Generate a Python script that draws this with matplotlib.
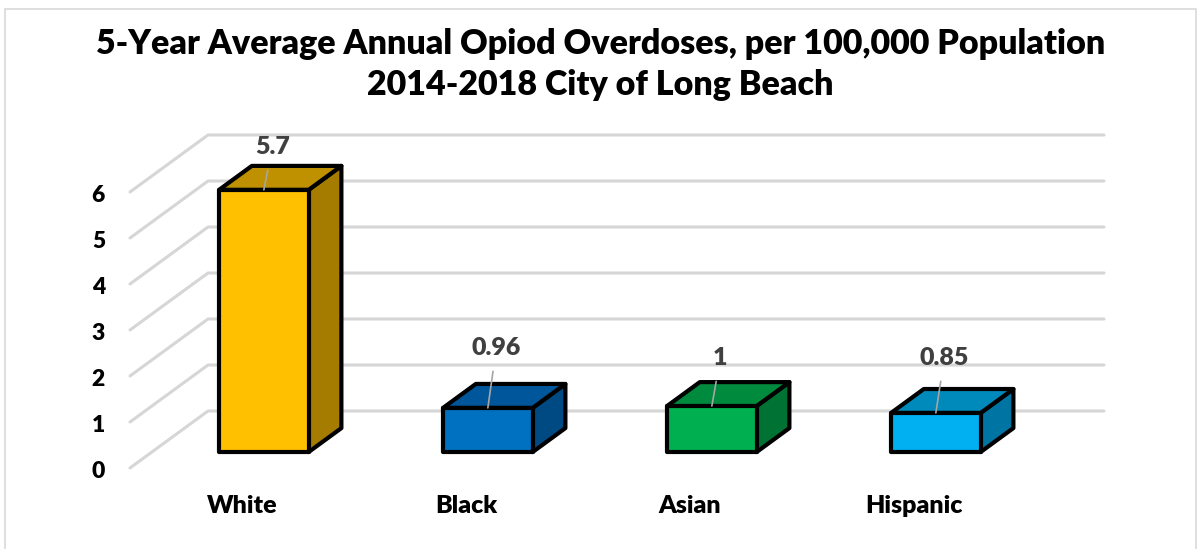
import numpy as np
import matplotlib.pyplot as plt
from matplotlib.patches import Polygon, Rectangle

plt.rcParams['font.family'] = ['Lato', 'DejaVu Sans']
FW = 'heavy'

# data
categories = ['White', 'Black', 'Asian', 'Hispanic']
values = [5.7, 0.96, 1, 0.85]
value_labels = ['5.7', '0.96', '1', '0.85']
y_ticks = [0, 1, 2, 3, 4, 5, 6]

# style
front_colors = ['#FFC000', '#0070C0', '#00B050', '#00B0F0']
top_colors = ['#BF9000', '#00569A', '#008A3E', '#0089BB']
side_colors = ['#A67C00', '#004A84', '#007233', '#0074A2']
label_lift = [43, 60, 48, 55]   # px above the bar's front top edge

W, H = 1201, 549
fig = plt.figure(figsize=(W / 100, H / 100), dpi=100)
fig.patches.append(Rectangle((5 / W, -0.1), 1191 / W, 1.1 - 9 / H, transform=fig.transFigure,
                             fill=False, ec='#D9D9D9', lw=1.2))

ax = fig.add_axes([130 / W, 1 - 468 / H, 896 / W, 322 / H])
ax.set_xlim(-0.5, 3.5)
ax.set_ylim(0, 7)
ax.axis('off')

# oblique depth vector (floor front -> back wall) in data units
DX = 78 / 224
DY = 57 / 46


def proj(x, v, d):
    return (x + d * DX, v + d * DY)


# gridlines: side wall diagonals + back wall
x0, x1 = -0.5, 3.5
for t in y_ticks:
    pts = [proj(x0, t, 0), proj(x0, t, 1), proj(x1, t, 1)]
    xs, ys = zip(*pts)
    ax.plot(xs, ys, color='#D6D6D6', lw=2.2, solid_capstyle='round', zorder=1, clip_on=False)
    ax.annotate(str(t), xy=(x0, t), xytext=(-25, -4), textcoords='offset pixels',
                ha='right', va='center', fontsize=16.5, fontweight=FW, color='black')

# bars as 3D boxes
bw = 0.2
d0, d1 = 0.28, 0.70
for i, (c, v) in enumerate(zip(categories, values)):
    xl, xr = i - bw, i + bw
    front = [proj(xl, 0, d0), proj(xr, 0, d0), proj(xr, v, d0), proj(xl, v, d0)]
    top = [proj(xl, v, d0), proj(xr, v, d0), proj(xr, v, d1), proj(xl, v, d1)]
    side = [proj(xr, 0, d0), proj(xr, 0, d1), proj(xr, v, d1), proj(xr, v, d0)]
    for poly, col in [(side, side_colors[i]), (top, top_colors[i]), (front, front_colors[i])]:
        ax.add_patch(Polygon(poly, closed=True, fc=col, ec='black', lw=3,
                             joinstyle='round', zorder=3, clip_on=False))

    # value label with leader line to the front top edge
    ax.annotate(value_labels[i], xy=proj(i, v, d0), xytext=(8.5, label_lift[i]),
                textcoords='offset pixels', ha='center', va='center',
                fontsize=18, fontweight=FW, color='#404040', zorder=5,
                arrowprops=dict(arrowstyle='-', color='#A6A6A6', lw=1.2,
                                shrinkA=7, shrinkB=0))

    ax.annotate(c, xy=(i, 0), xytext=(0, -38), textcoords='offset pixels',
                ha='center', va='center', fontsize=18, fontweight=FW, color='black')

fig.text(0.5, 1 - 54 / H, '5-Year Average Annual Opiod Overdoses, per 100,000 Population',
         ha='center', va='baseline', fontsize=24.5, fontweight=FW, color='black')
fig.text(0.5, 1 - 95 / H, '2014-2018 City of Long Beach',
         ha='center', va='baseline', fontsize=24.5, fontweight=FW, color='black')

fig.savefig('out.png', dpi=100)
